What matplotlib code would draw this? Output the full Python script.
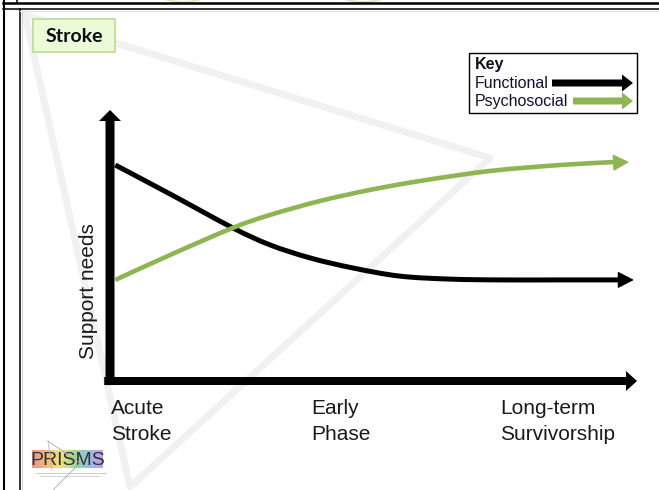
import numpy as np
import matplotlib
matplotlib.use("Agg")
import matplotlib.pyplot as plt
from matplotlib.patches import Rectangle, Polygon, Ellipse, PathPatch
from matplotlib.path import Path
from matplotlib.colors import LinearSegmentedColormap

plt.rcParams["font.family"] = ["Liberation Sans", "DejaVu Sans"]

# --- data (x = time along pathway 0..100, y = support needs 0..100)
functional_x = [1.0, 11.4, 23.3, 30.4, 38.0, 46.1, 55.0, 64.5, 74.0, 85.4, 97.0]
functional_y = [79.7, 69.0, 56.5, 50.2, 45.4, 41.7, 38.7, 37.6, 37.3, 37.3, 37.3]
functional_tip = (99.4, 37.3)

psychosocial_x = [1.0, 11.4, 23.3, 30.4, 39.8, 49.3, 58.8, 72.1, 85.4, 95.8]
psychosocial_y = [37.3, 46.5, 56.5, 61.3, 66.4, 70.5, 73.8, 77.5, 79.7, 80.8]
psychosocial_tip = (98.5, 80.8)

stage_labels = ["Acute\nStroke", "Early\nPhase", "Long-term\nSurvivorship"]
stage_pos = [0.2, 38.1, 74.0]

series_names = ["Functional", "Psychosocial"]
series_colors = ["black", "#8db652"]


def smooth_path(xs, ys):
    # Catmull-Rom through the read points, as cubic Bezier segments
    p = np.column_stack([xs, ys])
    ext = np.vstack([p[0], p, p[-1]])
    verts = [p[0]]
    codes = [Path.MOVETO]
    for i in range(1, len(ext) - 2):
        c1 = ext[i] + (ext[i + 1] - ext[i - 1]) / 6
        c2 = ext[i + 1] - (ext[i + 2] - ext[i]) / 6
        verts += [c1, c2, ext[i + 1]]
        codes += [Path.CURVE4] * 3
    return Path(verts, codes)


W, H = 659, 490
fig = plt.figure(figsize=(W / 100, H / 100), dpi=100)

# background layer in pixel coordinates (frame, watermark, boxes, logo)
bg = fig.add_axes([0, 0, 1, 1], zorder=0)
bg.set_xlim(0, W)
bg.set_ylim(H, 0)
bg.axis("off")

# faint bits of shapes cut off at the top
for cx in (183, 363):
    bg.add_patch(Ellipse((cx, -18), 70, 40, fill=False, ec="#d3e6bd", lw=1.2))

# frame lines
bg.plot([3.5, 3.5], [0, H], color="black", lw=1.5)
bg.plot([3, W], [3.5, 3.5], color="black", lw=1.8)
bg.plot([3, W], [9.5, 9.5], color="black", lw=1.1)
bg.plot([16.5, 16.5], [0, 3.5], color="black", lw=1.1)
bg.plot([19.5, 19.5], [9.5, H], color="black", lw=1.1)
bg.plot([21.5, 21.5], [11, H], color="#d4d4d4", lw=0.8)
bg.plot([20, W], [11.5, 11.5], color="#e2e2e2", lw=0.8)

# watermark triangle
bg.add_patch(Polygon([(25, 15), (490, 158), (130, 487)], closed=True, fill=False,
                     ec="#f1f1f1", lw=5, joinstyle="round"))

# "Stroke" tag
bg.add_patch(Rectangle((33, 19), 82, 33, fc="#ebfbd8", ec="#c2dd9a", lw=1.3))
bg.text(74, 36.5, "Stroke", ha="center", va="center", fontsize=14,
        fontweight="bold", family=["Lato", "DejaVu Sans"], color="#0d0d0d")

# key
bg.add_patch(Rectangle((469, 53), 168, 60, fc="white", ec="black", lw=1))
bg.text(475, 69, "Key", fontsize=11.5, fontweight="bold", va="baseline", color="#111122")
key_y = [88, 106]
key_start = [552, 573]
for name, col, yb, xs in zip(series_names, series_colors, key_y, key_start):
    bg.text(475, yb, name, fontsize=11.5, va="baseline", color="#111133")
    bg.arrow(xs, yb - 5, 633 - xs, 0, width=7, head_width=17, head_length=11,
             length_includes_head=True, color=col, lw=0)

# y-axis label
bg.text(88, 291, "Support needs", rotation=90, ha="center", va="center",
        fontsize=15, color="#1a1a1a")

# PRISMS logo
logo_cols = ["#e98080", "#f2ab5c", "#efe067", "#90d27c", "#7db4e6", "#c08ae0"]
cmap = LinearSegmentedColormap.from_list("prisms", logo_cols)
bg.imshow(np.linspace(0, 1, 256)[None, :], cmap=cmap, extent=(32, 103, 468, 450),
          aspect="auto", alpha=0.85, zorder=2)
bg.text(67.5, 460, "PRISMS", ha="center", va="center", fontsize=14,
        family=["Liberation Sans Narrow", "Liberation Sans"], color="#333333", zorder=3)
bg.plot([36, 106], [472.5, 472.5], color="#c4c4c4", lw=0.6, zorder=3)
bg.plot([40, 100], [475.5, 475.5], color="#cfcfcf", lw=0.6, zorder=3)
bg.plot([48, 80, 53], [441, 463, 490], color="#a8a8a8", lw=0.6, zorder=3)
bg.plot([48, 52], [441, 470], color="#b8b8b8", lw=0.6, zorder=3)
bg.set_xlim(0, W)
bg.set_ylim(H, 0)

# chart layer
ax = fig.add_axes([110 / W, 109 / H, 527 / W, 271 / H], zorder=1)
ax.patch.set_alpha(0)
ax.set_xlim(0, 100)
ax.set_ylim(0, 100)
ax.axis("off")

px_x = 527 / 100
px_y = 271 / 100
ax.arrow(0, -1.5, 0, 101.5, width=9 / px_x, head_width=22 / px_x, head_length=11 / px_y,
         length_includes_head=True, color="black", lw=0, clip_on=False)
ax.arrow(-1.1, 0, 101.1, 0, width=8 / px_y, head_width=20 / px_y, head_length=11 / px_x,
         length_includes_head=True, color="black", lw=0, clip_on=False)

series = [(functional_x, functional_y, functional_tip),
          (psychosocial_x, psychosocial_y, psychosocial_tip)]
for (xs, ys, tip), col, lw in zip(series, series_colors, [3.6, 3.3]):
    ax.add_patch(PathPatch(smooth_path(xs, ys), fill=False, ec=col, lw=lw,
                           capstyle="butt", joinstyle="round", clip_on=False))
    ax.annotate("", xy=tip, xytext=(xs[-2], ys[-2]),
                arrowprops=dict(arrowstyle="-|>,head_length=1.0,head_width=0.52",
                                color=col, lw=1, shrinkA=0, shrinkB=0),
                annotation_clip=False)

for lab, xp in zip(stage_labels, stage_pos):
    ax.text(xp, -6.6, lab, ha="left", va="top", fontsize=15, linespacing=1.45,
            color="#1a1a1a", clip_on=False)

fig.savefig("out.png", dpi=100)
